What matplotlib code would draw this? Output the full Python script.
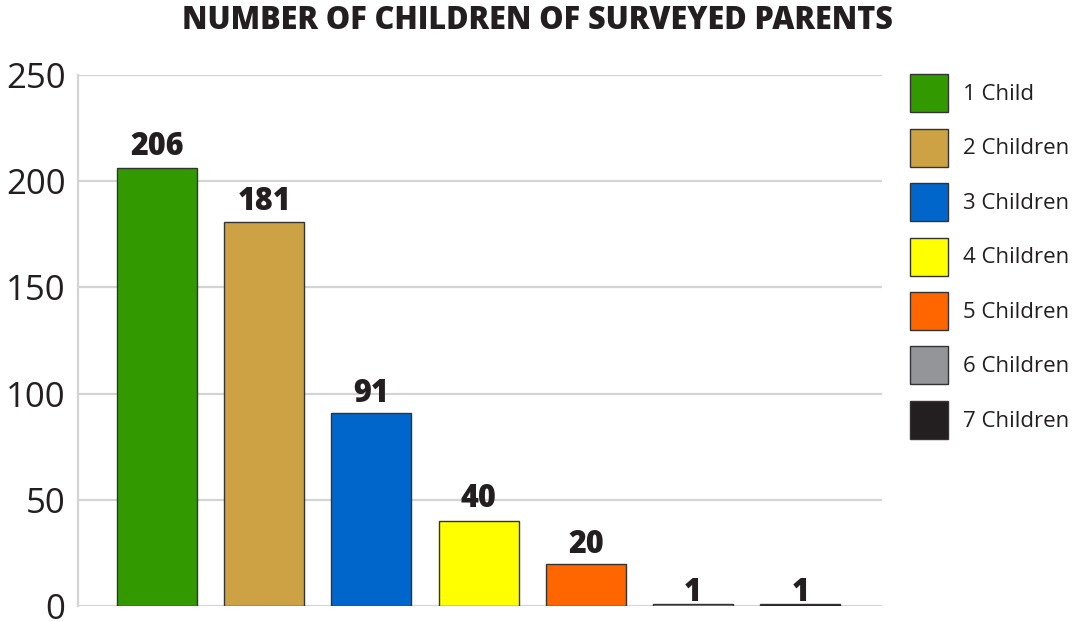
import matplotlib
matplotlib.use("Agg")
import matplotlib.pyplot as plt

categories = ["1 Child", "2 Children", "3 Children", "4 Children",
              "5 Children", "6 Children", "7 Children"]
counts = [206, 181, 91, 40, 20, 1, 1]
colors = ["#339900", "#CCA244", "#0066CC", "#FFFF00",
          "#FF6600", "#939598", "#231F20"]
yticks = [0, 50, 100, 150, 200, 250]
title = "NUMBER OF CHILDREN OF SURVEYED PARENTS"

# gap (points) between each bar top and its value label baseline
label_gap_pt = [9.5, 8, 8, 10, 7.5, 2, 2]

plt.rcParams["font.family"] = ["Open Sans", "DejaVu Sans"]

fig = plt.figure(figsize=(10.76, 6.21), dpi=100)
ax = fig.add_axes([78 / 1076, 1 - 606 / 621, 804 / 1076, 531 / 621])

x = list(range(len(categories)))
bars = ax.bar(x, counts, width=0.746, color=colors, edgecolor="#333333",
              linewidth=1.0, zorder=3, label=categories)

for b, v, gap in zip(bars, counts, label_gap_pt):
    ax.annotate(f"{v}", (b.get_x() + b.get_width() / 2, v),
                xytext=(0, gap), textcoords="offset points",
                ha="center", va="baseline", fontsize=22, fontweight="heavy",
                color="#231F20", zorder=4)

ax.set_xlim(-0.737, 6.763)
ax.set_ylim(0, 250)
ax.set_yticks(yticks)
ax.set_xticks([])
ax.tick_params(axis="y", length=0, pad=9, labelsize=25, labelcolor="#231F20")

ax.grid(axis="y", color="#d4d4d4", linewidth=1.6, zorder=0)
ax.set_axisbelow(True)
for side in ["top", "right", "bottom"]:
    ax.spines[side].set_visible(False)
ax.spines["left"].set_color("#d4d4d4")
ax.spines["left"].set_linewidth(1.6)
ax.spines["left"].set_zorder(1)

fig.text(537 / 1076, 1 - 21 / 621, title, ha="center", va="center",
         fontsize=22, fontweight="heavy", color="#231F20")

fs = 16
fs_px = fs * 100 / 72
box = 38 / fs_px
leg = ax.legend(handles=list(bars), labels=categories, loc="upper left",
                bbox_to_anchor=(910 / 1076, 1 - 74 / 621),
                bbox_transform=fig.transFigure, frameon=False, fontsize=fs,
                handlelength=box, handleheight=(box - 0.245) / 0.65,
                handletextpad=15 / fs_px, labelspacing=16.5 / fs_px,
                borderpad=0, borderaxespad=0, labelcolor="#231F20")

fig.savefig("out.png", dpi=100)
